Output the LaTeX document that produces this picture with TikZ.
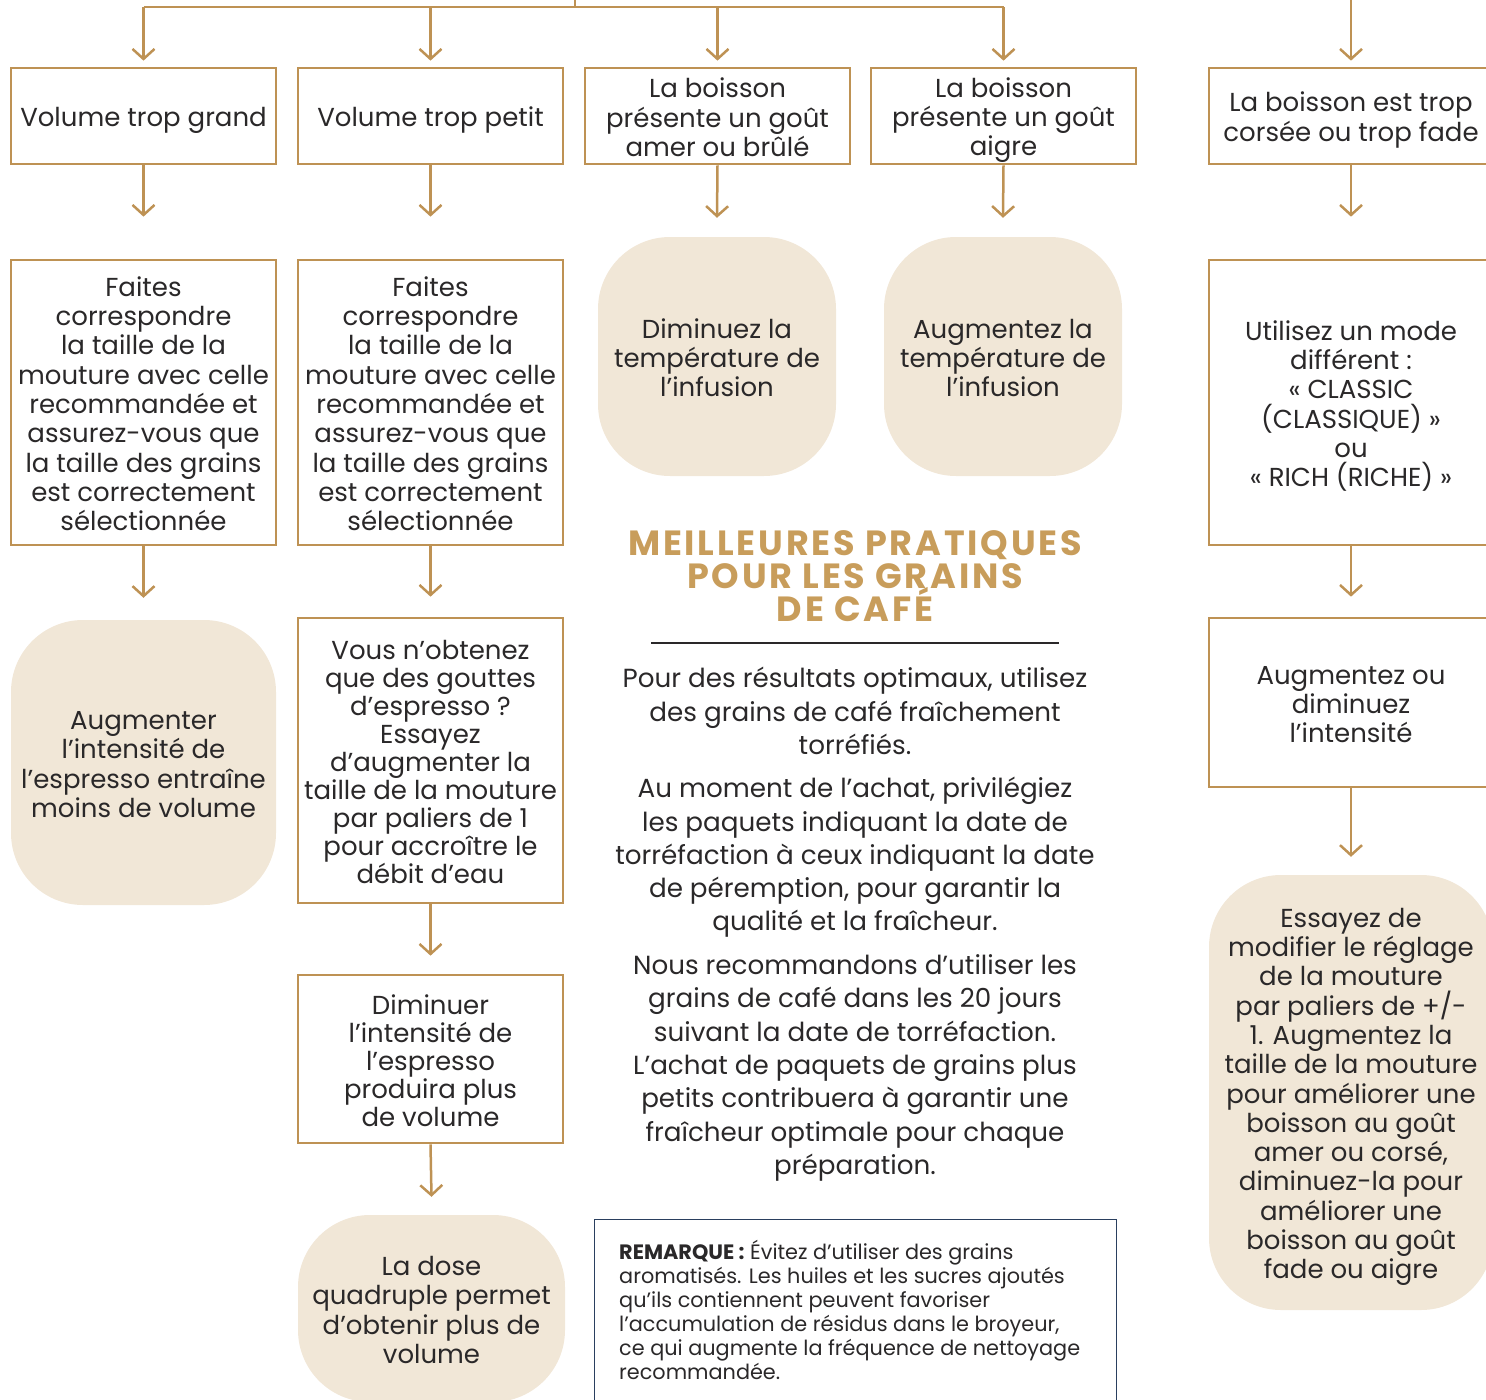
\documentclass[tikz,border=0pt]{standalone}
\usepackage{fontspec}
\setmainfont{Poppins}
\usetikzlibrary{arrows.meta}
\definecolor{gold}{HTML}{BE9254}
\definecolor{cream}{HTML}{F1E7D7}
\definecolor{ink}{HTML}{2A2829}
\definecolor{titlegold}{HTML}{C89D5B}
\definecolor{navy}{HTML}{2A3F5F}
\newcommand\boxfont{\fontsize{26}{29.3}\selectfont}
\newcommand\boxfontb{\fontsize{26}{28}\selectfont}
\newcommand\midfont{\fontsize{26.2}{33.3}\selectfont}
\newcommand\titlefont{\fontsize{35}{33}\selectfont\bfseries\addfontfeatures{LetterSpace=8}}
\newcommand\ts{\rule{0pt}{28pt}}
\newcommand\bs{\rule[-6pt]{0pt}{6pt}}
\tikzset{
 txt/.style={inner sep=0pt, align=center, text=ink, font=\boxfont},
 box/.style={txt, draw=gold, line width=2.7pt, fill=white},
 bubble/.style={txt, fill=cream, rounded corners=72pt},
 arr/.style={draw=gold, line width=2.5pt, -{Straight Barb[length=10pt, width=22pt]}},
 conn/.style={draw=gold, line width=2.5pt},
 midtext/.style={align=center, text=ink, font=\midfont, inner sep=0pt},
}
\begin{document}
\lineskiplimit=-40pt\relax
\begin{tikzpicture}[x=1pt,y=-1pt]
\useasboundingbox (0,0) rectangle (1486,1400);
\clip (0,0) rectangle (1486,1400);
% row 1
\node[box, minimum width=265pt, minimum height=96pt] (a1) at (143.5,116) {\ts Volume trop grand\bs};
\node[box, minimum width=265pt, minimum height=96pt] (a2) at (430.5,116) {\ts Volume trop petit\bs};
\node[box, minimum width=265pt, minimum height=96pt] (a3) at (717.5,116) {\ts La boisson\\présente un goût\\amer ou brûlé\bs};
\node[box, minimum width=265pt, minimum height=96pt] (a4) at (1003.5,116) {\ts La boisson\\présente un goût\\aigre\bs};
\node[box, minimum width=284pt, minimum height=96pt] (a5) at (1351,116) {\ts La boisson est trop\\corsée ou trop fade\bs};
% row 2
\node[box, minimum width=265pt, minimum height=285pt] (b1) at (143.5,402.5) {\ts Faites\\correspondre\\la taille de la\\mouture avec celle\\recommandée et\\assurez-vous que\\la taille des grains\\est correctement\\sélectionnée\bs};
\node[box, minimum width=265pt, minimum height=285pt] (b2) at (430.5,402.5) {\ts Faites\\correspondre\\la taille de la\\mouture avec celle\\recommandée et\\assurez-vous que\\la taille des grains\\est correctement\\sélectionnée\bs};
\node[bubble, minimum width=238pt, minimum height=239pt] (b3) at (717,356.5) {\ts Diminuez la\\température de\\l’infusion\bs};
\node[bubble, minimum width=238pt, minimum height=239pt] (b4) at (1003,356.5) {\ts Augmentez la\\température de\\l’infusion\bs};
\node[box, minimum width=284pt, minimum height=285pt] (b5) at (1351,402.5) {\ts Utilisez un mode\\différent :\\« CLASSIC\\(CLASSIQUE) »\\ou\\« RICH (RICHE) »\bs};
% row 3
\node[bubble, minimum width=265pt, minimum height=285pt] (c1) at (143.5,762.5) {\ts Augmenter\\l’intensité de\\l’espresso entraîne\\moins de volume\bs};
\node[box, font=\boxfontb, minimum width=265pt, minimum height=285pt] (c2) at (430.5,760.5) {\ts Vous n’obtenez\\que des gouttes\\d’espresso ?\\Essayez\\d’augmenter la\\taille de la mouture\\par paliers de 1\\pour accroître le\\débit d’eau\bs};
\node[box, minimum width=284pt, minimum height=169pt] (c5) at (1351,702.5) {\ts Augmentez ou\\diminuez\\l’intensité\bs};
% row 4
\node[box, font=\boxfontb, minimum width=265pt, minimum height=168pt] (d2) at (430.5,1059) {\ts Diminuer\\l’intensité de\\l’espresso\\produira plus\\de volume\bs};
\node[bubble, minimum width=284pt, minimum height=435pt] (d5) at (1351,1092.5) {\ts Essayez de\\modifier le réglage\\de la mouture\\par paliers de +/-\\1. Augmentez la\\taille de la mouture\\pour améliorer une\\boisson au goût\\amer ou corsé,\\diminuez-la pour\\améliorer une\\boisson au goût\\fade ou aigre\bs};
% row 5
\node[bubble, minimum width=267pt, minimum height=187pt] (e2) at (431.5,1308.5) {\ts La dose\\quadruple permet\\d’obtenir plus de\\volume\bs};
% top connectors
\coordinate (top) at (575,0);
\coordinate (jt) at (575,7);
\coordinate (j1) at (143.5,7);
\coordinate (j2) at (430.5,7);
\coordinate (j3) at (717.5,7);
\coordinate (j4) at (1003.5,7);
\coordinate (top5) at (1351,0);
\draw[conn] (j1) -- (j4);
\draw[conn] (top) -- (jt);
\draw[arr] (j1) -- ([yshift=6pt]a1.north);
\draw[arr] (j2) -- ([yshift=6pt]a2.north);
\draw[arr] (j3) -- ([yshift=6pt]a3.north);
\draw[arr] (j4) -- ([yshift=6pt]a4.north);
\draw[arr] (top5) -- ([yshift=6pt]a5.north);
% row connectors
\draw[arr] (a1.south) -- ([yshift=42pt]b1.north);
\draw[arr] (a2.south) -- ([yshift=42pt]b2.north);
\draw[arr] (a3.south) -- ([yshift=19pt]b3.north);
\draw[arr] (a4.south) -- ([yshift=19pt]b4.north);
\draw[arr] (a5.south) -- ([yshift=42pt]b5.north);
\draw[arr] (b1.south) -- ([yshift=22pt]c1.north);
\draw[arr] (b2.south) -- ([yshift=20pt]c2.north);
\draw[arr] (b5.south) -- ([yshift=20pt]c5.north);
\draw[arr] (c2.south) -- ([yshift=18pt]d2.north);
\draw[arr] (c5.south) -- ([yshift=18pt]d5.north);
\draw[arr] (d2.south) -- ([yshift=18pt]e2.north);
% middle column
\node[align=center, text=titlegold, inner sep=0pt, font=\titlefont] (title) at (855,576) {MEILLEURES PRATIQUES\\POUR LES GRAINS\\DE CAFÉ};
\draw[ink, line width=2.6pt] (651,643) -- (1059,643);
\node[midtext] (p1) at (855,711) {Pour des résultats optimaux, utilisez\\des grains de café fraîchement\\torréfiés.};
\node[midtext] (p2) at (855,857.5) {Au moment de l’achat, privilégiez\\les paquets indiquant la date de\\torréfaction à ceux indiquant la date\\de péremption, pour garantir la\\qualité et la fraîcheur.};
\node[midtext] (p3) at (855,1068) {Nous recommandons d’utiliser les\\grains de café dans les 20 jours\\suivant la date de torréfaction.\\L’achat de paquets de grains plus\\petits contribuera à garantir une\\fraîcheur optimale pour chaque\\préparation.};
% remark
\node[draw=navy, line width=1.3pt, minimum width=522pt, minimum height=220pt, anchor=north west, inner sep=0pt] (rem) at (594,1219) {};
\node[anchor=north west, align=left, text=ink, inner sep=0pt, font=\fontsize{20.8}{24}\selectfont] (remt) at (619,1240) {\textbf{REMARQUE :} Évitez d’utiliser des grains\\aromatisés. Les huiles et les sucres ajoutés\\qu’ils contiennent peuvent favoriser\\l’accumulation de résidus dans le broyeur,\\ce qui augmente la fréquence de nettoyage\\recommandée.};
\end{tikzpicture}
\end{document}
